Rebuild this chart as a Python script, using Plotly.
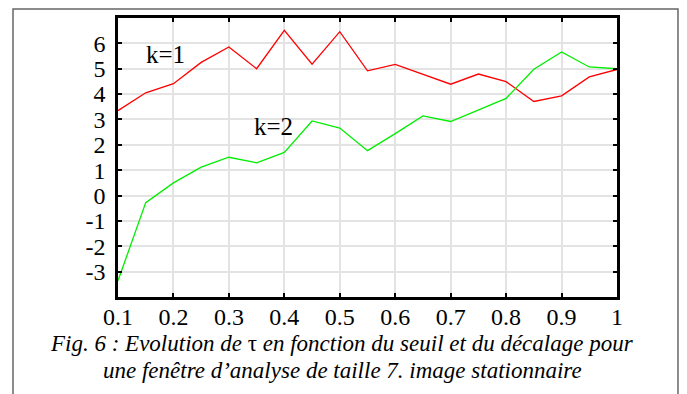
import plotly.graph_objects as go

seuil = [0.1, 0.15, 0.2, 0.25, 0.3, 0.35, 0.4, 0.45, 0.5, 0.55, 0.6, 0.65, 0.7, 0.75, 0.8, 0.85, 0.9, 0.95, 1.0]
tau_k1 = [3.35, 4.05, 4.41, 5.25, 5.86, 5.0, 6.51, 5.18, 6.46, 4.92, 5.17, 4.79, 4.39, 4.79, 4.49, 3.71, 3.93, 4.68, 4.97]
tau_k2 = [-3.36, -0.28, 0.5, 1.12, 1.51, 1.29, 1.70, 2.94, 2.66, 1.77, 2.44, 3.14, 2.92, 3.38, 3.83, 4.98, 5.66, 5.07, 5.0]
x_ticks = [0.1, 0.2, 0.3, 0.4, 0.5, 0.6, 0.7, 0.8, 0.9, 1.0]
x_tick_labels = ["0.1", "0.2", "0.3", "0.4", "0.5", "0.6", "0.7", "0.8", "0.9", "1"]
y_ticks = [-3, -2, -1, 0, 1, 2, 3, 4, 5, 6]
y_tick_labels = ["-3", "-2", "-1", "0", "1", "2", "3", "4", "5", "6"]
series_labels = ["k=1", "k=2"]
caption_lines = [
    "<i>Fig. 6 : Evolution de </i>τ<i> en fonction du seuil et du décalage pour</i>",
    "<i>une fenêtre d’analyse de taille 7. image stationnaire</i>",
]

SERIF = "Liberation Serif"

fig = go.Figure()
fig.add_trace(go.Scatter(x=seuil, y=tau_k1, mode="lines", line=dict(color="#ff0000", width=1.3),
                         name=series_labels[0], showlegend=False))
fig.add_trace(go.Scatter(x=seuil, y=tau_k2, mode="lines", line=dict(color="#00ee00", width=1.3),
                         name=series_labels[1], showlegend=False))

fig.add_annotation(x=0.185, y=5.55, text=series_labels[0], showarrow=False,
                   font=dict(family=SERIF, size=25, color="black"))
fig.add_annotation(x=0.381, y=2.71, text=series_labels[1], showarrow=False,
                   font=dict(family=SERIF, size=25, color="black"))

# caption lines (paper coords, plot area is 499x279 px)
for i, line in enumerate(caption_lines):
    fig.add_annotation(x=0.449, y=[-0.168, -0.265][i], xref="paper", yref="paper",
                       text=line, showarrow=False, xanchor="center", yanchor="middle",
                       font=dict(family=SERIF, size=23, color="black"))

# outer frame
fig.add_shape(type="rect", xref="paper", yref="paper", x0=-0.2104, x1=1.1222, y0=-0.45, y1=1.0323,
              line=dict(color="#666666", width=1.5), layer="below")

axis_common = dict(showline=True, linecolor="black", linewidth=2.5, mirror="ticks",
                   ticks="inside", ticklen=4, tickwidth=2, tickcolor="black",
                   showgrid=True, gridcolor="#e3e3e3", gridwidth=2, zeroline=False,
                   automargin=False,
                   tickfont=dict(family=SERIF, size=24, color="black"))

fig.update_xaxes(range=[0.1, 1.0], tickvals=x_ticks, ticktext=x_tick_labels,
                 ticklabelstandoff=-4, **axis_common)
fig.update_yaxes(range=[-4, 7], tickvals=y_ticks, ticktext=y_tick_labels,
                 ticklabelstandoff=5, **axis_common)

# page body has an 8px margin, so the figure is 8px smaller than the window
fig.update_layout(width=679, height=386, margin=dict(l=110, r=70, t=10, b=97),
                  plot_bgcolor="white", paper_bgcolor="white",
                  font=dict(family=SERIF))

fig.write_html("out.html")
